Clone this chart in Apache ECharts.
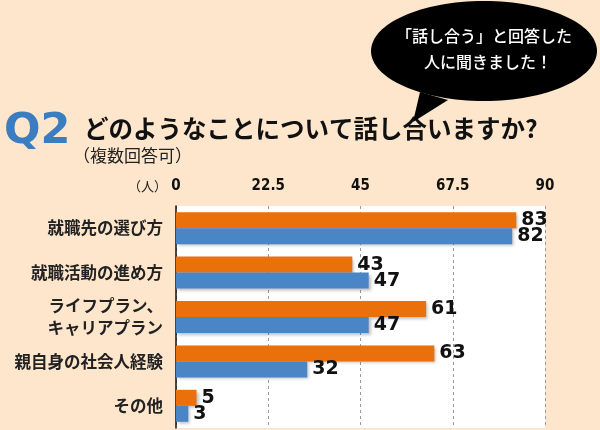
<!DOCTYPE html>
<html><head><meta charset="utf-8">
<script src="https://cdn.jsdelivr.net/npm/echarts@6/dist/echarts.min.js"></script>
<style>html,body{margin:0;padding:0;background:#fde6cc}#c{width:600px;height:430px}</style>
</head><body><div id="c"></div>
<script>
const categories = ['就職先の選び方', '就職活動の進め方', 'ライフプラン、\nキャリアプラン', '親自身の社会人経験', 'その他'];
const seriesOrange = [83, 43, 61, 63, 5];
const seriesBlue = [82, 47, 47, 32, 3];
const tickLabels = ['0', '22.5', '45', '67.5', '90'];
const unitLabel = '（人）';
const titleMain = 'どのようなことについて話し合いますか?';
const titleSub = '（複数回答可）';
const qLabel = 'Q2';
const bubbleLines = ['「話し合う」と回答した', '人に聞きました！'];

const JP = '"Noto Sans CJK JP", "Noto Sans", sans-serif';
const chart = echarts.init(document.getElementById('c'), null, {renderer: 'canvas'});
const barShadow = {shadowColor: 'rgba(0,0,0,0.25)', shadowBlur: 3, shadowOffsetX: 2, shadowOffsetY: 2};
const valueLabel = {show: true, position: 'right', distance: 5, color: '#111', fontSize: 19, fontWeight: 'bold', fontFamily: '"DejaVu Sans", sans-serif'};
chart.setOption({
  backgroundColor: '#fde6cc',
  animation: false,
  grid: {left: 176, right: 55, top: 206, bottom: 2, show: true, backgroundColor: '#ffffff', borderWidth: 0},
  xAxis: {
    type: 'value', position: 'top', min: 0, max: 90, interval: 22.5,
    axisLine: {show: false}, axisTick: {show: false},
    axisLabel: {
      formatter: (v, i) => tickLabels[i], margin: 12,
      color: '#111', fontWeight: 'bold', fontSize: 15,
      fontFamily: '"DejaVu Sans Condensed", "Liberation Sans Narrow", sans-serif'
    },
    splitLine: {show: true, lineStyle: {color: '#9a9a9a', type: [3, 3], width: 1}}
  },
  yAxis: {
    type: 'category', data: categories, inverse: true,
    axisLine: {show: true, lineStyle: {color: '#111', width: 1.5}},
    axisTick: {show: false},
    axisLabel: {margin: 13, color: '#222', fontSize: 16.5, fontWeight: 'bold', fontFamily: JP, lineHeight: 22, align: 'right'}
  },
  series: [
    {
      name: '系列1', type: 'bar', data: seriesOrange, barWidth: 16, barGap: '0%',
      itemStyle: Object.assign({color: '#e9700b'}, barShadow),
      label: valueLabel
    },
    {
      name: '系列2', type: 'bar', data: seriesBlue, barWidth: 16, barGap: '0%',
      itemStyle: Object.assign({color: '#4a85c6'}, barShadow),
      label: valueLabel
    }
  ],
  graphic: [
    {type: 'text', left: 4, top: 110, style: {text: qLabel, fill: '#3b7dc1', font: '900 43px "DejaVu Sans", sans-serif'}},
    {type: 'text', left: 84, top: 116, style: {text: titleMain, fill: '#111', font: 'bold 24.5px ' + JP}},
    {type: 'text', left: 73, top: 147, style: {text: titleSub, fill: '#222', font: '17px ' + JP}},
    {type: 'text', left: 128, top: 180, style: {text: unitLabel, fill: '#222', font: '13px ' + JP}},
    {type: 'polygon', shape: {points: [[420, 92], [448, 100], [413, 122]]}, style: {fill: '#000'}},
    {type: 'ellipse', shape: {cx: 484, cy: 51, rx: 113, ry: 50}, style: {fill: '#000'}},
    {type: 'text', x: 484, y: 36, style: {text: bubbleLines[0], fill: '#fff', font: '500 16px ' + JP, align: 'center', verticalAlign: 'middle'}},
    {type: 'text', x: 488, y: 62, style: {text: bubbleLines[1], fill: '#fff', font: '500 16px ' + JP, align: 'center', verticalAlign: 'middle'}}
  ]
});
</script></body></html>
